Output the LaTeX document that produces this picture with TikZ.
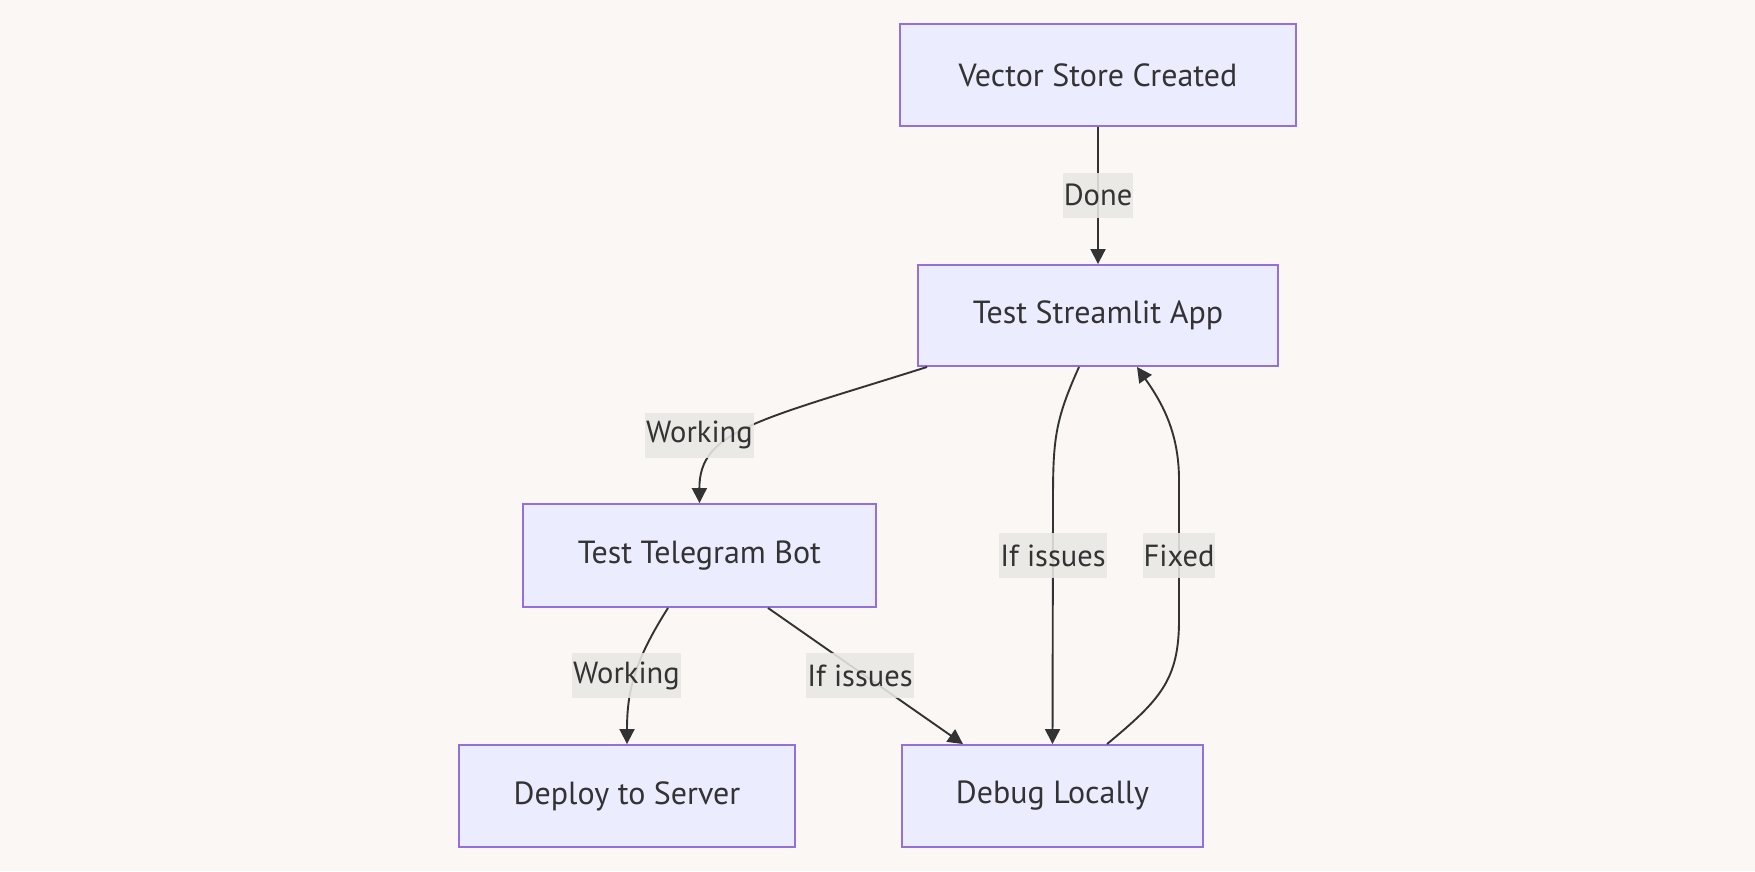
\documentclass[tikz,border=0pt]{standalone}
\usepackage{fontspec}
\setmainfont{PT Sans}
\usetikzlibrary{arrows.meta}
\definecolor{bgc}{RGB}{250,247,245}
\definecolor{boxfill}{RGB}{236,236,255}
\definecolor{boxdraw}{RGB}{147,112,219}
\definecolor{edgec}{RGB}{51,51,51}
\definecolor{lblfill}{RGB}{232,232,228}
\tikzset{
  flowbox/.style={draw=boxdraw, fill=boxfill, line width=1.9pt, text=edgec, inner sep=0pt, font=\fontsize{32}{38}\selectfont},
  lbl/.style={fill=lblfill, fill opacity=0.88, text opacity=1, text=edgec, inner xsep=1pt, inner ysep=0pt, minimum height=45pt, font=\fontsize{30.5}{36}\selectfont},
  conn/.style={draw=edgec, line width=1.9pt, -{Triangle[length=15pt,width=15pt]}},
}
\begin{document}
\begin{tikzpicture}[x=1pt,y=-1pt]
\fill[bgc] (0,0) rectangle (1755,871);
\useasboundingbox (0,0) rectangle (1755,871);
\node[flowbox, minimum width=396pt, minimum height=102pt] (vs) at (1098,75) {Vector Store Created};
\node[flowbox, minimum width=360pt, minimum height=101pt] (ts) at (1098,315.5) {Test Streamlit App};
\node[flowbox, minimum width=353pt, minimum height=103pt] (tg) at (699.5,555.5) {Test Telegram Bot};
\node[flowbox, minimum width=336pt, minimum height=102pt] (dp) at (627,796) {Deploy to Server};
\node[flowbox, minimum width=301pt, minimum height=102pt] (db) at (1052.5,796) {Debug Locally};
% edges
\draw[conn] (vs.south) -- (ts.north);
\draw[conn] (ts.south west) ++(10,0) .. controls (760,420) and (699,430) .. (tg.north);
\draw[conn] (ts.south) ++(-19,0) .. controls (1055,420) and (1053,440) .. (1053,500) -- (db.north);
\draw[conn] (db.north) ++(54.5,0) .. controls (1160,700) and (1179,680) .. (1179,620) -- (1179,480) .. controls (1179,430) and (1160,400) .. ([xshift=39pt]ts.south);
\draw[conn] (tg.south) ++(-31.5,0) .. controls (635,660) and (627,690) .. (dp.north);
\draw[conn] (tg.south) ++(68.5,0) -- ([xshift=-89.5pt]db.north);
% labels
\node[lbl] (l1) at (1098,195) {Done};
\node[lbl] (l2) at (699.5,435) {Working};
\node[lbl] (l3) at (1053,555.5) {If issues};
\node[lbl] (l4) at (1179,555.5) {Fixed};
\node[lbl] (l5) at (626.5,675.5) {Working};
\node[lbl] (l6) at (860,675.5) {If issues};
\end{tikzpicture}
\end{document}
